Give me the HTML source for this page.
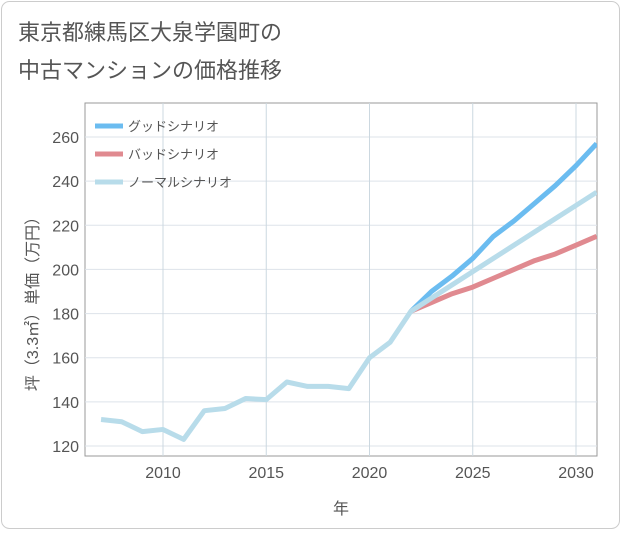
<!DOCTYPE html>
<html><head><meta charset="utf-8"><style>
body{margin:0;background:#fff;}
#wrap{width:621px;height:530px;position:relative;font-family:"Liberation Sans","Noto Sans CJK JP",sans-serif;}
</style></head><body>
<div id="wrap">
<svg id="chart" width="621" height="530" xmlns="http://www.w3.org/2000/svg">
<rect x="1.5" y="1.5" width="618" height="527" rx="8" fill="#fff" stroke="#ccc"/>
<text x="18" y="40" font-size="22" fill="#555" font-family="Liberation Sans,Noto Sans CJK JP,sans-serif">東京都練馬区大泉学園町の</text>
<text x="18" y="78" font-size="22" fill="#555" font-family="Liberation Sans,Noto Sans CJK JP,sans-serif">中古マンションの価格推移</text>
<g id="plot"></g>
</svg>
</div>
<script>
const years=[2007,2008,2009,2010,2011,2012,2013,2014,2015,2016,2017,2018,2019,2020,2021,2022,2023,2024,2025,2026,2027,2028,2029,2030,2031];
const normalValues=[132,131,126.5,127.5,123,136,137,141.5,141,149,147,147,146,160,167,181,187,193,199,205,211,217,223,229,235];
const goodYears=[2022,2023,2024,2025,2026,2027,2028,2029,2030,2031];
const goodValues=[181,190,197,205,215,222,230,238,247,257];
const badValues=[181,185,189,192,196,200,204,207,211,215];
const xTicks=[2010,2015,2020,2025,2030];
const yTicks=[120,140,160,180,200,220,240,260];
const NS="http://www.w3.org/2000/svg";
const L=85,R=597,T=103,B=456;
const x=v=>163+(v-2010)*(576-163)/20;
const y=v=>446-(v-120)*(446-137)/140;
const g=document.getElementById('plot');
function el(t,a){const e=document.createElementNS(NS,t);for(const k in a)e.setAttribute(k,a[k]);g.appendChild(e);return e;}
let bg=el('rect',{x:L,y:T,width:R-L,height:B-T,fill:'#fff',stroke:'#999'});


yTicks.forEach(v=>{
 let l=el('line',{x1:L,x2:R,y1:y(v),y2:y(v),stroke:'#dde3ea'});
 
 
 let t=el('text',{x:L-6,y:y(v)+6,'text-anchor':'end','font-size':16,fill:'#555'});
 t.textContent=v;
 
 
});
xTicks.forEach(v=>{
 let l=el('line',{x1:x(v),x2:x(v),y1:T,y2:B,stroke:'#ccd8e0'});
 
 
 let t=el('text',{x:x(v),y:B+22,'text-anchor':'middle','font-size':16,fill:'#555'});
 t.textContent=v;
 
 
});
let xt=el('text',{x:341,y:514,'text-anchor':'middle','font-size':16,fill:'#555'});
xt.textContent='年';


let yt=el('text',{x:0,y:0,'text-anchor':'middle','font-size':16,fill:'#555',transform:'translate(38,300) rotate(-90)'});
yt.textContent='坪（3.3㎡）単価（万円）';


const clip=el('clipPath',{id:'c'});
const cr=document.createElementNS(NS,'rect');cr.setAttribute('x',L);cr.setAttribute('y',T);cr.setAttribute('width',R-L);cr.setAttribute('height',B-T);clip.appendChild(cr);
function line(xs,vs,color,name){
 let p=el('polyline',{points:xs.map((xv,i)=>x(xv)+','+y(vs[i])).join(' '),fill:'none',stroke:color,'stroke-width':5,'stroke-linejoin':'round','clip-path':'url(#c)'});
 
 
}
line(goodYears,goodValues,'#6bbcf0','good-scenario-line');
line(goodYears,badValues,'#e08a90','bad-scenario-line');
line(years,normalValues,'#b8dcea','normal-scenario-line');
const leg=[['グッドシナリオ','#6bbcf0'],['バッドシナリオ','#e08a90'],['ノーマルシナリオ','#b8dcea']];
leg.forEach((d,i)=>{
 let yy=126+i*28;
 let l=el('line',{x1:95,x2:123,y1:yy,y2:yy,stroke:d[1],'stroke-width':5});
 
 
 let t=el('text',{x:128,y:yy+5,'font-size':13,fill:'#555'});
 t.textContent=d[0];
 
 
});
</script>
</body></html>
